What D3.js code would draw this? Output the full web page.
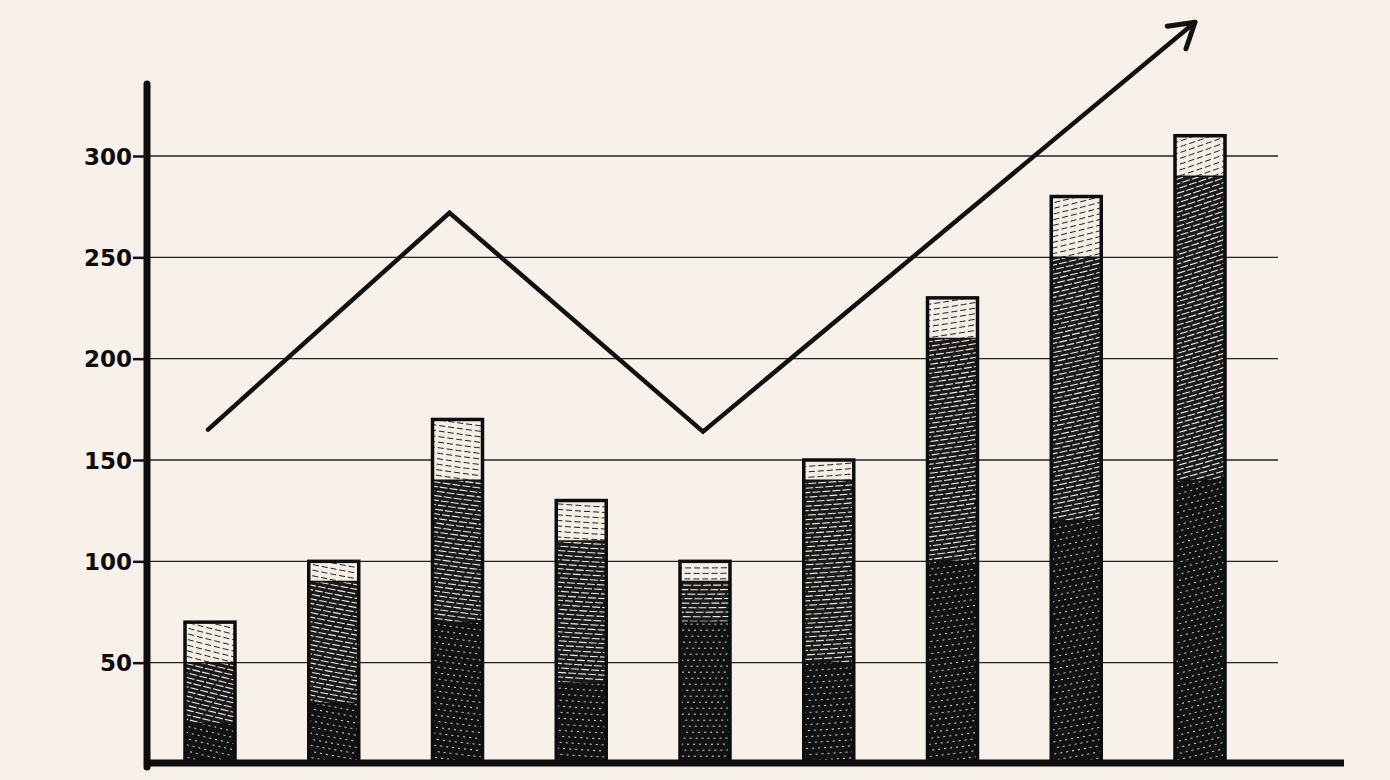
<!DOCTYPE html>
<html>
<head>
<meta charset="utf-8">
<script src="https://cdn.jsdelivr.net/npm/d3@7"></script>
<style>
  body { margin: 0; background: #f8f1ea; }
  svg { display: block; }
  .tick-label { font-family: "DejaVu Sans", sans-serif; font-weight: bold; font-size: 23px; fill: #0d0d0d; }
</style>
</head>
<body>
<div id="chart"></div>
<script>
// chart values
var categories = ["1", "2", "3", "4", "5", "6", "7", "8", "9"];
var darkPart  = [20, 30, 70, 40, 70, 50, 100, 120, 140];
var midPart   = [30, 60, 70, 70, 20, 90, 110, 130, 150];
var lightPart = [20, 10, 30, 20, 10, 10, 20, 30, 20];
var trendCats = ["1", "3", "5", "9"];
var trendVals = [165, 272, 164, 366];
var yTicks = [50, 100, 150, 200, 250, 300];

var W = 1390, H = 780;
var svg = d3.select("#chart").append("svg").attr("width", W).attr("height", H);
svg.append("rect").attr("width", W).attr("height", H).attr("fill", "#f8f1ea");

var x = d3.scalePoint().domain(categories).range([210, 1200]);
var y = d3.scaleLinear().domain([0, 300]).range([764, 156]);
var barW = 50;

// stack the three parts
var rows = categories.map(function(c, i){
    return {cat: c, dark: darkPart[i], mid: midPart[i], light: lightPart[i]};
});
var stack = d3.stack().keys(["dark", "mid", "light"])(rows);

// gridlines
svg.append("g").selectAll("line").data(yTicks).enter().append("line")
    .attr("x1", 148).attr("x2", 1278)
    .attr("y1", function(d){ return y(d); }).attr("y2", function(d){ return y(d); })
    .attr("stroke", "#222").attr("stroke-width", 1.4);

// texture styles per layer
var looks = {
    dark:  {fill: "#121212", stroke: "#f3ece4", dash: "2,4", gap: 6, w: 1},
    mid:   {fill: "#1a1a1a", stroke: "#f3ece4", dash: "8,2", gap: 4.5, w: 1.1},
    light: {fill: "#f4eee6", stroke: "#1a1a1a", dash: "6,3", gap: 5.5, w: 1}
};

var defs = svg.append("defs");
var bars = svg.append("g");
var arcCenter = [700, -1300];

stack.forEach(function(layer){
    var look = looks[layer.key];
    layer.forEach(function(d, i){
        var x0 = x(d.data.cat) - barW / 2;
        var yTop = y(d[1]), yBot = y(d[0]);
        var id = "clip-" + layer.key + "-" + i;
        defs.append("clipPath").attr("id", id).append("rect")
            .attr("x", x0).attr("y", yTop).attr("width", barW).attr("height", yBot - yTop);
        var g = bars.append("g").attr("clip-path", "url(#" + id + ")");
        g.append("rect").attr("x", x0).attr("y", yTop).attr("width", barW).attr("height", yBot - yTop)
            .attr("fill", look.fill);
        // concentric dashed arcs for the hand-shaded look
        var cx = arcCenter[0], cy = arcCenter[1];
        var dxa = x0 - cx, dxb = x0 + barW - cx;
        var rMin = Math.min(Math.hypot(dxa, yTop - cy), Math.hypot(dxb, yTop - cy)) - 10;
        var rMax = Math.max(Math.hypot(dxa, yBot - cy), Math.hypot(dxb, yBot - cy)) + 10;
        var radii = d3.range(rMin, rMax, look.gap);
        g.selectAll("circle").data(radii).enter().append("circle")
            .attr("cx", cx).attr("cy", cy).attr("r", function(r){ return r; })
            .attr("fill", "none").attr("stroke", look.stroke)
            .attr("stroke-width", look.w).attr("stroke-dasharray", look.dash);
        // divider between parts
        if (layer.key !== "dark") {
            bars.append("line").attr("x1", x0).attr("x2", x0 + barW)
                .attr("y1", yBot).attr("y2", yBot)
                .attr("stroke", "#111").attr("stroke-width", 1.5);
        }
    });
});

// bar outlines
svg.append("g").selectAll("rect").data(rows).enter().append("rect")
    .attr("x", function(d){ return x(d.cat) - barW / 2; })
    .attr("y", function(d){ return y(d.dark + d.mid + d.light); })
    .attr("width", barW)
    .attr("height", function(d){ return y(0) - y(d.dark + d.mid + d.light); })
    .attr("fill", "none").attr("stroke", "#0d0d0d").attr("stroke-width", 3.5);

// axes
var axisG = svg.append("g");
axisG.append("line").attr("x1", 147).attr("x2", 147).attr("y1", 84).attr("y2", 767)
    .attr("stroke", "#0d0d0d").attr("stroke-width", 7).attr("stroke-linecap", "round");
axisG.append("line").attr("x1", 145).attr("x2", 1344).attr("y1", 763).attr("y2", 763)
    .attr("stroke", "#0d0d0d").attr("stroke-width", 7);

var yAxis = d3.axisLeft(y).tickValues(yTicks).tickSize(12).tickPadding(1);
var yg = svg.append("g").attr("transform", "translate(145,0)").call(yAxis);
yg.select(".domain").remove();
yg.selectAll(".tick line").attr("stroke", "#111").attr("stroke-width", 2.5);
yg.selectAll(".tick text").attr("class", "tick-label").attr("dy", "0.36em");

// trend line with arrow
var line = d3.line()
    .x(function(d, i){ return x(trendCats[i]) - (i === 1 ? 8 : i === 3 ? 5 : 2); })
    .y(function(d){ return y(d); });
svg.append("path").datum(trendVals).attr("d", line)
    .attr("fill", "none").attr("stroke", "#111").attr("stroke-width", 4.5)
    .attr("stroke-linejoin", "miter").attr("stroke-linecap", "round");

var n = trendVals.length;
var tip = [x(trendCats[n - 1]) - 5, y(trendVals[n - 1])];
var prev = [x(trendCats[n - 2]) - 2, y(trendVals[n - 2])];
var ang = Math.atan2(tip[1] - prev[1], tip[0] - prev[0]);
var headLen = 28, spread = 0.55;
var head = d3.path();
head.moveTo(tip[0] - headLen * Math.cos(ang - spread), tip[1] - headLen * Math.sin(ang - spread));
head.lineTo(tip[0], tip[1]);
head.lineTo(tip[0] - headLen * Math.cos(ang + spread), tip[1] - headLen * Math.sin(ang + spread));
svg.append("path").attr("d", head.toString())
    .attr("fill", "none").attr("stroke", "#111").attr("stroke-width", 5)
    .attr("stroke-linecap", "round").attr("stroke-linejoin", "round");
</script>
</body>
</html>
